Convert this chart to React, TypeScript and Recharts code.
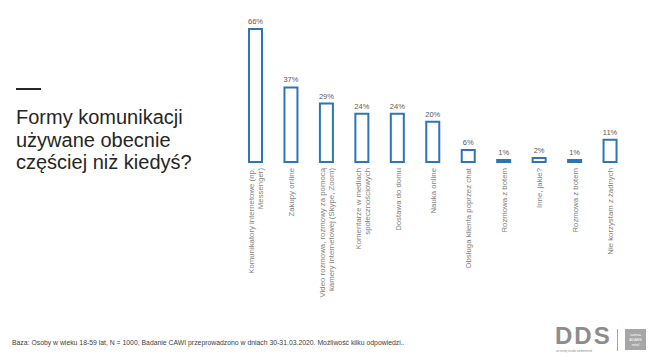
import { BarChart, Bar, XAxis, YAxis, LabelList } from "recharts";

// dane z wykresu
const kategorie = [
  "Komunikatory internetowe (np.|Messenger)",
  "Zakupy online",
  "Video rozmowa, rozmowy za pomocą|kamery internetowej (Skype, Zoom)",
  "Komentarze w mediach|społecznościowych",
  "Dostawa do domu",
  "Nauka online",
  "Obsługa klienta poprzez chat",
  "Rozmowa z botem",
  "Inne, jakie?",
  "Rozmowa z botem",
  "Nie korzystam z żadnych",
];
const procenty = [66, 37, 29, 24, 24, 20, 6, 1, 2, 1, 11];

const dane = kategorie.map((k, i) => ({ name: k, value: procenty[i] }));

const FONT = "Arial, 'Liberation Sans', sans-serif";

function Tick(props: any) {
  const { x, y, payload } = props;
  const linie: string[] = String(payload.value).split("|");
  return (
    <g transform={`translate(${x},${y - 2})`}>
      <text
        transform="rotate(-90)"
        textAnchor="end"
        fontSize={7.8}
        fill="#7f7f7f"
        fontFamily={FONT}
      >
        {linie.map((l, i) => (
          <tspan key={i} x={0} y={3 + (i - (linie.length - 1) / 2) * 9}>
            {l}
          </tspan>
        ))}
      </text>
    </g>
  );
}

export default function App() {
  return (
    <div
      style={{
        position: "absolute",
        left: 0,
        top: 0,
        width: 655,
        height: 360,
        background: "#fff",
        fontFamily: FONT,
      }}
    >
      <BarChart
        width={655}
        height={360}
        data={dane}
        margin={{ top: 29, right: 27, bottom: 8, left: 238 }}
      >
        <XAxis
          dataKey="name"
          interval={0}
          axisLine={false}
          tickLine={false}
          height={190}
          tick={<Tick />}
        />
        <YAxis hide domain={[0, 66]} />
        <Bar
          dataKey="value"
          barSize={13}
          fill="#ffffff"
          stroke="#2e75b6"
          strokeWidth={2}
          isAnimationActive={false}
        >
          <LabelList
            dataKey="value"
            position="top"
            offset={5}
            fontSize={7.5}
            fill="#595959"
            fontFamily={FONT}
            formatter={(v: any) => `${v}%`}
          />
        </Bar>
      </BarChart>

      {/* tytuł */}
      <div
        style={{
          position: "absolute",
          left: 16,
          top: 88,
          width: 25,
          height: 2,
          background: "#262626",
        }}
      />
      <div
        style={{
          position: "absolute",
          left: 16,
          top: 106,
          fontSize: 20,
          lineHeight: "22.5px",
          color: "#262626",
          whiteSpace: "nowrap",
        }}
      >
        Formy komunikacji
        <br />
        używane obecnie
        <br />
        częściej niż kiedyś?
      </div>

      {/* stopka */}
      <div
        style={{
          position: "absolute",
          left: 12,
          top: 339,
          fontSize: 6.85,
          color: "#404040",
          whiteSpace: "nowrap",
        }}
      >
        Baza: Osoby w wieku 18-59 lat, N = 1000, Badanie CAWI przeprowadzono w
        dniach 30-31.03.2020. Możliwość kilku odpowiedzi..
      </div>

      {/* logo */}
      <div
        style={{
          position: "absolute",
          left: 555,
          top: 326,
          height: 20,
          fontSize: 24,
          fontWeight: "bold",
          color: "#8c8c8c",
          letterSpacing: 2,
          lineHeight: "20px",
        }}
      >
        DDS
      </div>
      <div
        style={{
          position: "absolute",
          left: 556,
          top: 349,
          fontSize: 3,
          lineHeight: "4px",
          color: "#8c8c8c",
          whiteSpace: "nowrap",
        }}
      >
        an entity inside ambermind
      </div>
      <div
        style={{
          position: "absolute",
          left: 617,
          top: 329,
          width: 1,
          height: 22,
          background: "#a6a6a6",
        }}
      />
      <div
        style={{
          position: "absolute",
          left: 625,
          top: 329,
          width: 21,
          height: 21,
          background: "#a6a6a6",
          color: "#fff",
          fontSize: 3.5,
          lineHeight: "5px",
          textAlign: "center",
          paddingTop: 4,
          boxSizing: "border-box",
        }}
      >
        samsa
        <br />
        ADAMS
        <br />
        retail
      </div>
    </div>
  );
}
